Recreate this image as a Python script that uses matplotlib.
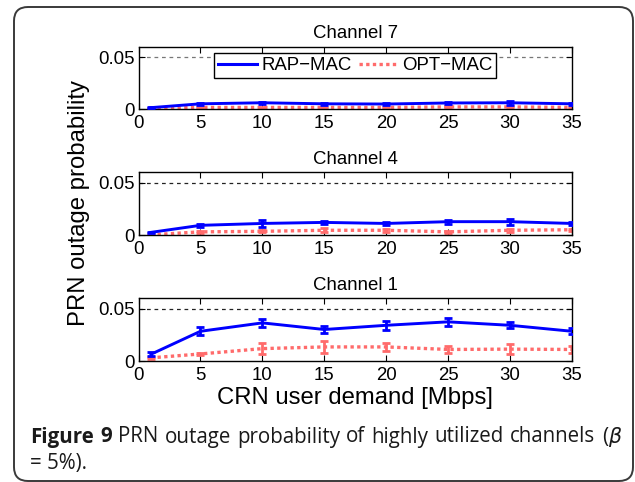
import matplotlib
matplotlib.use("Agg")
import matplotlib.pyplot as plt
from matplotlib.patches import FancyBboxPatch
from matplotlib.lines import Line2D
from matplotlib.transforms import IdentityTransform
from matplotlib.ticker import FixedLocator, FixedFormatter

plt.rcParams['font.family'] = ['Liberation Sans', 'DejaVu Sans']

x = [1, 5, 10, 15, 20, 25, 30, 35]
titles = ["Channel 7", "Channel 4", "Channel 1"]

rap_ch7 = [0.0013, 0.005, 0.006, 0.005, 0.0048, 0.0058, 0.006, 0.005]
rap_ch7_err = [0.0003, 0.0008, 0.0008, 0.0007, 0.0007, 0.0008, 0.0018, 0.0007]
opt_ch7 = [0.0005, 0.0015, 0.0015, 0.0015, 0.0015, 0.002, 0.002, 0.0015]
opt_ch7_err = [0.0002, 0.0005, 0.0006, 0.0005, 0.0005, 0.0006, 0.0007, 0.0005]

rap_ch4 = [0.0025, 0.0092, 0.011, 0.012, 0.011, 0.0127, 0.0127, 0.011]
rap_ch4_err = [0.0003, 0.0015, 0.003, 0.0015, 0.0012, 0.002, 0.003, 0.0015]
opt_ch4 = [0.0002, 0.003, 0.0035, 0.0045, 0.0045, 0.003, 0.0045, 0.005]
opt_ch4_err = [0.0002, 0.0008, 0.0008, 0.002, 0.0015, 0.001, 0.0015, 0.001]

rap_ch1 = [0.0064, 0.0283, 0.0363, 0.030, 0.034, 0.0373, 0.034, 0.0283]
rap_ch1_err = [0.002, 0.004, 0.004, 0.003, 0.004, 0.004, 0.003, 0.003]
opt_ch1 = [0.003, 0.0067, 0.0118, 0.0134, 0.0134, 0.011, 0.0113, 0.011]
opt_ch1_err = [0.0008, 0.001, 0.005, 0.006, 0.004, 0.003, 0.005, 0.003]

rap = [(rap_ch7, rap_ch7_err), (rap_ch4, rap_ch4_err), (rap_ch1, rap_ch1_err)]
opt = [(opt_ch7, opt_ch7_err), (opt_ch4, opt_ch4_err), (opt_ch1, opt_ch1_err)]
series_names = ["RAP\u2212MAC", "OPT\u2212MAC"]

xticks = [0, 5, 10, 15, 20, 25, 30, 35]
yticks = [0, 0.05]
ytick_labels = ["0", "0.05"]
threshold = 0.05

W, H = 635, 482
fig = plt.figure(figsize=(W / 100, H / 100), dpi=100)

# frame (pixel coords, origin bottom-left)
frame = FancyBboxPatch((14, 1), 619, 474, boxstyle="round,pad=0,rounding_size=14",
                       transform=IdentityTransform(), fill=False,
                       edgecolor="#3a3a3a", linewidth=1.4)
fig.patches.append(frame)

axes_px = [(46.7, 109), (172, 235), (298, 361)]
left, right = 138.5, 572
blue = (0, 0, 1)
red = (1, 0.42, 0.42)
dot = (0, (1, 1))
fs = 13.4

for i, (top, bot) in enumerate(axes_px):
    ax = fig.add_axes([left / W, 1 - bot / H, (right - left) / W, (bot - top) / H])
    ax.axhline(threshold, color="#777777" if i == 0 else "#222222",
               linestyle=(0, (3, 3)), linewidth=0.9, zorder=1)
    ry, re = rap[i]
    oy, oe = opt[i]
    ax.errorbar(x, ry, yerr=re, color=blue, linewidth=2.1, elinewidth=2.0,
                capsize=3, capthick=2.0, zorder=3)
    ax.errorbar(x, oy, yerr=oe, color=red, linewidth=2.4, linestyle=dot,
                elinewidth=2.0, capsize=3, capthick=2.0, zorder=2)
    ax.set_xlim(0, 35)
    ax.set_ylim(0, 0.06)
    ax.xaxis.set_major_locator(FixedLocator(xticks))
    ax.yaxis.set_major_locator(FixedLocator(yticks))
    ax.yaxis.set_major_formatter(FixedFormatter(ytick_labels))
    ax.tick_params(direction="in", top=True, right=True, labelsize=fs, length=4,
                   width=0.8)
    ax.tick_params(axis="x", pad=4)
    ax.tick_params(axis="y", pad=2.5)
    for s in ax.spines.values():
        s.set_linewidth(1.0)
    ax.set_title(titles[i], fontsize=fs, pad=6)
    if i == 0:
        handles = [Line2D([], [], color=blue, linewidth=2.2),
                   Line2D([], [], color=red, linewidth=2.4, linestyle=dot)]
        leg = ax.legend(handles=handles, labels=series_names,
                        loc="upper center", ncol=2, fontsize=fs, frameon=True,
                        fancybox=False, edgecolor="black", framealpha=1,
                        handlelength=2.05, handletextpad=0.27, columnspacing=0.35,
                        borderpad=0.22, borderaxespad=0, bbox_to_anchor=(0.5, 0.9))
        leg.get_frame().set_linewidth(1.0)
        leg.set_zorder(5)

fig.text(79 / W, 1 - 202.5 / H, "PRN outage probability", rotation=90,
         ha="center", va="center", fontsize=17.2)
fig.text(355 / W, 1 - 398 / H, "CRN user demand [Mbps]", ha="center", va="center",
         fontsize=17.2)

# caption (justified first line)
cap_font = ['Open Sans', 'Lato', 'DejaVu Sans']
cap_size = 14.8
words = [("Figure", "bold"), ("9", "bold"), ("PRN", "medium"), ("outage", "medium"),
         ("probability", "medium"), ("of", "medium"), ("highly", "medium"),
         ("utilized", "medium"), ("channels", "medium"), ("($\\beta$", "medium")]
texts = []
for w, wt in words:
    texts.append(fig.text(0, 1 - 437 / H, w, fontsize=cap_size, fontweight=wt,
                          family=cap_font, va="center", ha="left", color="#1a1a1a"))
renderer = fig.canvas.get_renderer()
widths = [t.get_window_extent(renderer).width for t in texts]
x0, x1 = 30, 622
gap = (x1 - x0 - sum(widths)) / (len(widths) - 1)
pos = x0
for t, w in zip(texts, widths):
    t.set_x(pos / W)
    pos += w + gap
fig.text(30 / W, 1 - 463 / H, "= 5%).", fontsize=cap_size, fontweight="medium",
         family=cap_font, va="center", ha="left", color="#1a1a1a")

fig.savefig("out.png", dpi=100)
